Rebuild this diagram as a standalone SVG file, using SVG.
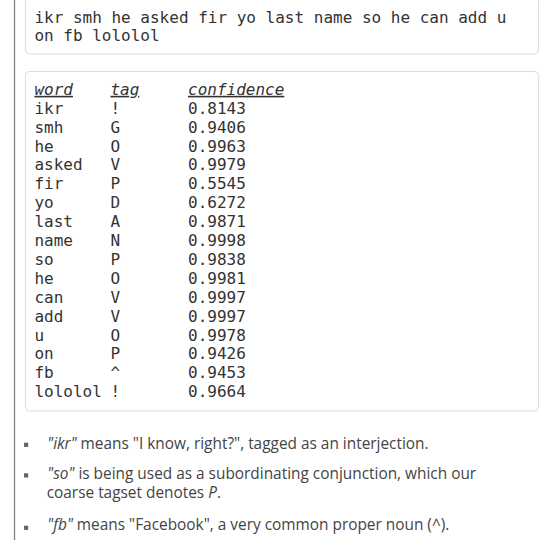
<svg xmlns="http://www.w3.org/2000/svg" width="540" height="540" viewBox="0 0 540 540">
<style>
.box{fill:#fff;stroke:#dcdcdc;stroke-width:1}
.m{font-family:"DejaVu Sans Mono","Liberation Mono",monospace;font-size:16px;fill:#333}
.h{font-style:italic;text-decoration:underline}
.b{font-family:"Open Sans","Liberation Sans",sans-serif;font-size:15.4px;fill:#444}
.i{font-style:italic}
.sq{fill:#666}
</style>
<rect width="540" height="540" fill="#fff"/>
<line x1="14.5" y1="0" x2="14.5" y2="540" stroke="#808080" stroke-width="1.3"/>
<g id="sentence">
<rect class="box" x="25.5" y="-3.5" width="513" height="57.5" rx="4"/>
<text class="m" x="34.4" y="22.5">ikr smh he asked fir yo last name so he can add u</text>
<text class="m" x="34.4" y="41.4">on fb lololol</text>
</g>
<g id="table">
<rect class="box" x="25.5" y="71.5" width="513" height="339.5" rx="4"/>
<g class="m">
<text class="h" x="34.4" y="94.8">word</text><text class="h" x="110.4" y="94.8">tag</text><text class="h" x="188" y="94.8">confidence</text>
<text x="34.4" y="113.7">ikr</text><text x="110.4" y="113.7">!</text><text x="188" y="113.7">0.8143</text>
<text x="34.4" y="132.6">smh</text><text x="110.4" y="132.6">G</text><text x="188" y="132.6">0.9406</text>
<text x="34.4" y="151.5">he</text><text x="110.4" y="151.5">O</text><text x="188" y="151.5">0.9963</text>
<text x="34.4" y="170.4">asked</text><text x="110.4" y="170.4">V</text><text x="188" y="170.4">0.9979</text>
<text x="34.4" y="189.3">fir</text><text x="110.4" y="189.3">P</text><text x="188" y="189.3">0.5545</text>
<text x="34.4" y="208.2">yo</text><text x="110.4" y="208.2">D</text><text x="188" y="208.2">0.6272</text>
<text x="34.4" y="227.1">last</text><text x="110.4" y="227.1">A</text><text x="188" y="227.1">0.9871</text>
<text x="34.4" y="246.0">name</text><text x="110.4" y="246.0">N</text><text x="188" y="246.0">0.9998</text>
<text x="34.4" y="264.9">so</text><text x="110.4" y="264.9">P</text><text x="188" y="264.9">0.9838</text>
<text x="34.4" y="283.8">he</text><text x="110.4" y="283.8">O</text><text x="188" y="283.8">0.9981</text>
<text x="34.4" y="302.7">can</text><text x="110.4" y="302.7">V</text><text x="188" y="302.7">0.9997</text>
<text x="34.4" y="321.6">add</text><text x="110.4" y="321.6">V</text><text x="188" y="321.6">0.9997</text>
<text x="34.4" y="340.5">u</text><text x="110.4" y="340.5">O</text><text x="188" y="340.5">0.9978</text>
<text x="34.4" y="359.4">on</text><text x="110.4" y="359.4">P</text><text x="188" y="359.4">0.9426</text>
<text x="34.4" y="378.3">fb</text><text x="110.4" y="378.3">^</text><text x="188" y="378.3">0.9453</text>
<text x="34.4" y="397.2">lololol</text><text x="110.4" y="397.2">!</text><text x="188" y="397.2">0.9664</text>
</g>
</g>
<g id="notes">
<rect class="sq" x="24" y="442.7" width="4.2" height="4.2"/>
<text class="b" x="47.3" y="449"><tspan class="i">"ikr"</tspan> means "I know, right?", tagged as an interjection.</text>
<rect class="sq" x="24" y="473.3" width="4.2" height="4.2"/>
<text class="b" x="47.3" y="479.3"><tspan class="i">"so"</tspan> is being used as a subordinating conjunction, which our</text>
<text class="b" x="46.7" y="498.3">coarse tagset denotes <tspan class="i">P</tspan>.</text>
<rect class="sq" x="24" y="525.7" width="4.2" height="4.2"/>
<text class="b" x="47.3" y="530"><tspan class="i">"fb"</tspan> means "Facebook", a very common proper noun (^).</text>
</g>
</svg>
